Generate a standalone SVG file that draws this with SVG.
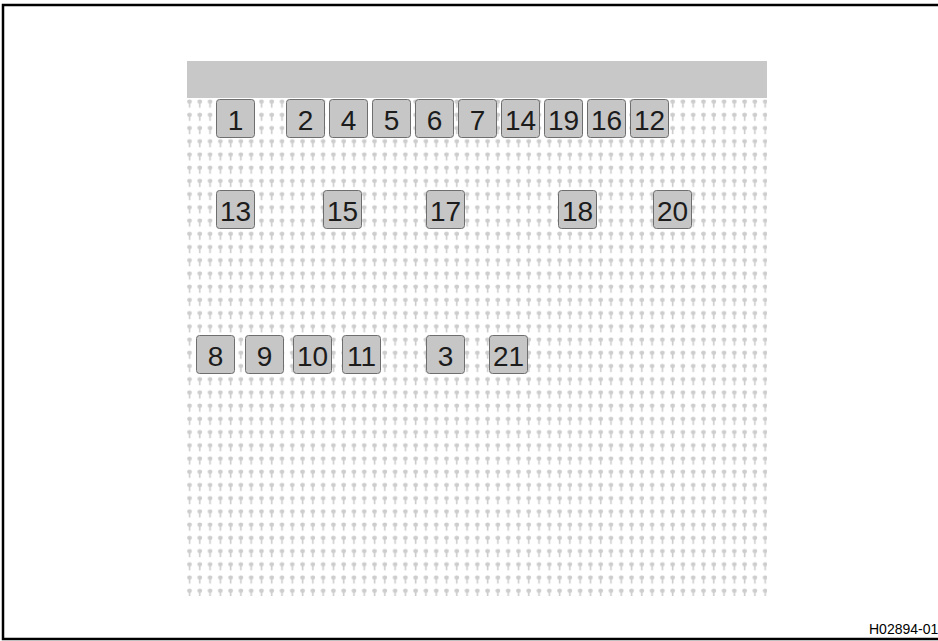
<svg xmlns="http://www.w3.org/2000/svg" width="938" height="641" viewBox="0 0 938 641">
<style>
.box{fill:#c6c6c6;stroke:#6e6e6e;stroke-width:1}
.lbl{font-family:"Liberation Sans",Arial,sans-serif;font-size:28px;fill:#1c1c1c;text-anchor:middle}
.key{fill:#cdcdcd}
</style>
<defs>
<pattern id="keys" patternUnits="userSpaceOnUse" x="187" y="99" width="10.28" height="13.22">
<ellipse class="key" cx="2.5" cy="2.6" rx="2.4" ry="2.2"/>
<rect class="key" x="1.7" y="3.5" width="1.6" height="5.2"/>
</pattern>
</defs>
<rect width="938" height="641" fill="#fff"/>
<path d="M938 5H3V639H938" fill="none" stroke="#000" stroke-width="2.5"/>
<rect x="187" y="61" width="580" height="37" fill="#c8c8c8"/>
<rect x="187" y="99" width="580" height="497" fill="url(#keys)"/>
<g id="n1"><rect class="box" x="216.5" y="99.5" width="38" height="38" rx="3"/><text class="lbl" x="235.5" y="129.5">1</text></g>
<g id="n2"><rect class="box" x="286.5" y="99.5" width="38" height="38" rx="3"/><text class="lbl" x="305.5" y="129.5">2</text></g>
<g id="n4"><rect class="box" x="329.5" y="99.5" width="38" height="38" rx="3"/><text class="lbl" x="348.5" y="129.5">4</text></g>
<g id="n5"><rect class="box" x="372.5" y="99.5" width="38" height="38" rx="3"/><text class="lbl" x="391.5" y="129.5">5</text></g>
<g id="n6"><rect class="box" x="415.5" y="99.5" width="38" height="38" rx="3"/><text class="lbl" x="434.5" y="129.5">6</text></g>
<g id="n7"><rect class="box" x="458.5" y="99.5" width="38" height="38" rx="3"/><text class="lbl" x="477.5" y="129.5">7</text></g>
<g id="n14"><rect class="box" x="501.5" y="99.5" width="38" height="38" rx="3"/><text class="lbl" x="520.5" y="129.5">14</text></g>
<g id="n19"><rect class="box" x="544.5" y="99.5" width="38" height="38" rx="3"/><text class="lbl" x="563.5" y="129.5">19</text></g>
<g id="n16"><rect class="box" x="587.5" y="99.5" width="38" height="38" rx="3"/><text class="lbl" x="606.5" y="129.5">16</text></g>
<g id="n12"><rect class="box" x="630.5" y="99.5" width="38" height="38" rx="3"/><text class="lbl" x="649.5" y="129.5">12</text></g>
<g id="n13"><rect class="box" x="216.5" y="190.5" width="38" height="38" rx="3"/><text class="lbl" x="235.5" y="220.5">13</text></g>
<g id="n15"><rect class="box" x="323.5" y="190.5" width="38" height="38" rx="3"/><text class="lbl" x="342.5" y="220.5">15</text></g>
<g id="n17"><rect class="box" x="426.5" y="190.5" width="38" height="38" rx="3"/><text class="lbl" x="445.5" y="220.5">17</text></g>
<g id="n18"><rect class="box" x="558.5" y="190.5" width="38" height="38" rx="3"/><text class="lbl" x="577.5" y="220.5">18</text></g>
<g id="n20"><rect class="box" x="653.5" y="190.5" width="38" height="38" rx="3"/><text class="lbl" x="672.5" y="220.5">20</text></g>
<g id="n8"><rect class="box" x="196.5" y="335.5" width="38" height="38" rx="3"/><text class="lbl" x="215.5" y="365.5">8</text></g>
<g id="n9"><rect class="box" x="245.5" y="335.5" width="38" height="38" rx="3"/><text class="lbl" x="264.5" y="365.5">9</text></g>
<g id="n10"><rect class="box" x="293.5" y="335.5" width="38" height="38" rx="3"/><text class="lbl" x="312.5" y="365.5">10</text></g>
<g id="n11"><rect class="box" x="342.5" y="335.5" width="38" height="38" rx="3"/><text class="lbl" x="361.5" y="365.5">11</text></g>
<g id="n3"><rect class="box" x="426.5" y="335.5" width="38" height="38" rx="3"/><text class="lbl" x="445.5" y="365.5">3</text></g>
<g id="n21"><rect class="box" x="489.5" y="335.5" width="38" height="38" rx="3"/><text class="lbl" x="508.5" y="365.5">21</text></g>
<text x="869" y="634" font-family="Liberation Sans,Arial,sans-serif" font-size="14" fill="#000">H02894-01</text>
</svg>
